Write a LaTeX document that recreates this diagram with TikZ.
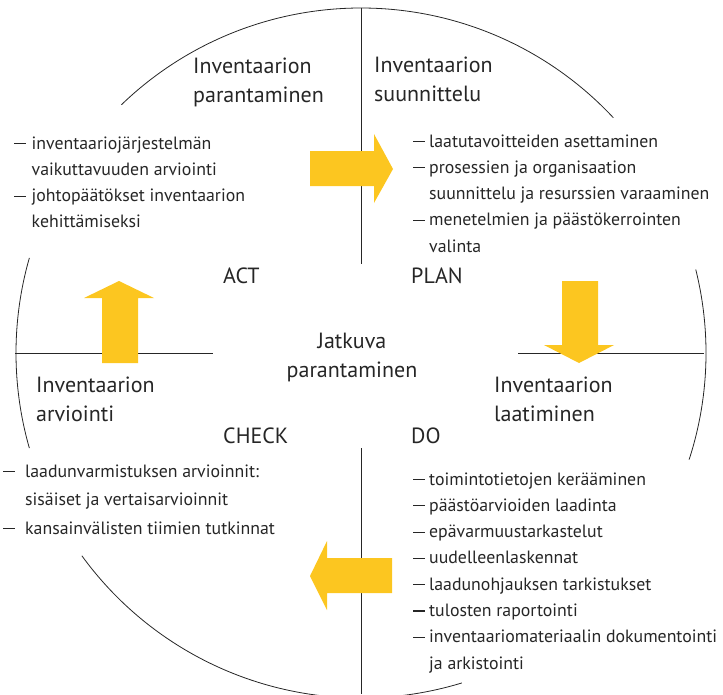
\documentclass[tikz,border=0pt]{standalone}
\usepackage{fontspec}
\setmainfont{PT Sans}
\usetikzlibrary{calc}
\definecolor{keltainen}{RGB}{252,198,32}
\definecolor{teksti}{RGB}{38,38,38}
\newcommand\viiva{\rule[5pt]{11.5pt}{1.1pt}}

\begin{document}
\begin{tikzpicture}[x=1pt,y=-1pt,
  otsikko/.style={anchor=base west,inner sep=0pt,text=teksti,font=\fontsize{22}{29.5}\selectfont},
  lista/.style={anchor=base west,inner sep=0pt,text=teksti,font=\fontsize{17.8}{26.3}\selectfont},
  nuoli/.style={fill=keltainen,draw=none},
  ympyra/.style={line width=0.8pt,draw=black!85}]
 \useasboundingbox (0,0) rectangle (723,694);
 \coordinate (O) at (361,353);

 % Circle pieces
 \draw[ympyra] (O) ++(-90:345) arc[start angle=-90,end angle=-134,radius=345];
 \draw[ympyra] (O) ++(-43:345) arc[start angle=-43,end angle=-90,radius=345];
 \draw[ympyra] (O) ++(-164:345) arc[start angle=-164,end angle=-196,radius=345];
 \draw[ympyra] (O) ++(18:345) arc[start angle=18,end angle=-14,radius=345];
 \draw[ympyra] (O) ++(144:345) arc[start angle=144,end angle=96,radius=345];
 \draw[ympyra] (O) ++(84:345) arc[start angle=84,end angle=73,radius=345];

 % Axes
 \draw[ympyra] (361,8) -- (361,264);
 \draw[ympyra] (361,448) -- (361,694);
 \draw[ympyra] (15,353) -- (213,353);
 \draw[ympyra] (518,353) -- (704,353);

 % Arrows
 \fill[nuoli] (310,151) -- (374,151) -- (374,134) -- (393,169) -- (374,203) -- (374,186) -- (310,186) -- cycle;
 \fill[nuoli] (562,281) -- (598,281) -- (598,345) -- (614,345) -- (579,363) -- (544,345) -- (562,345) -- cycle;
 \fill[nuoli] (392,558) -- (327,558) -- (327,541) -- (310,576) -- (327,610) -- (327,593) -- (392,593) -- cycle;
 \fill[nuoli] (102,363) -- (102,298) -- (84,298) -- (119,281) -- (154,298) -- (138,298) -- (138,363) -- cycle;

 % Phase titles
 \node[otsikko] (parannus) at (193,73) {\begin{tabular}[t]{@{}l@{}}Inventaarion\\parantaminen\end{tabular}};
 \node[otsikko] (suunnittelu) at (374,72) {\begin{tabular}[t]{@{}l@{}}Inventaarion\\suunnittelu\end{tabular}};
 \node[otsikko] (arviointi) at (36,392) {\begin{tabular}[t]{@{}l@{}}Inventaarion\\arviointi\end{tabular}};
 \node[otsikko] (laatiminen) at (494,392) {\begin{tabular}[t]{@{}l@{}}Inventaarion\\laatiminen\end{tabular}};
 \node[otsikko,anchor=base] (jatkuva) at (352,348) {\begin{tabular}[t]{@{}c@{}}Jatkuva\\parantaminen\end{tabular}};

 \node[otsikko] (act) at (223,283) {ACT};
 \node[otsikko] (plan) at (411,283) {PLAN};
 \node[otsikko] (check) at (223,443) {CHECK};
 \node[otsikko] (do) at (411,443) {DO};

 % Lists
 \node[lista] (actlista) at (14,149) {\begin{tabular}[t]{@{}p{17.5pt}@{}l@{}}
  \viiva & inventaariojärjestelmän\\
         & vaikuttavuuden arviointi\\
  \viiva & johtopäätökset inventaarion\\
         & kehittämiseksi\end{tabular}};
 \node[lista] (planlista) at (413,147) {\begin{tabular}[t]{@{}p{16pt}@{}l@{}}
  \viiva & laatutavoitteiden asettaminen\\
  \viiva & prosessien ja organisaation\\
         & suunnittelu ja resurssien varaaminen\\
  \viiva & menetelmien ja päästökerrointen\\
         & valinta\end{tabular}};
 \node[lista] (dolista) at (413,485) {\begin{tabular}[t]{@{}p{16pt}@{}l@{}}
  \viiva & toimintotietojen kerääminen\\
  \viiva & päästöarvioiden laadinta\\
  \viiva & epävarmuustarkastelut\\
  \viiva & uudelleenlaskennat\\
  \viiva & laadunohjauksen tarkistukset\\
  \viiva & tulosten raportointi\\
  \viiva & inventaariomateriaalin dokumentointi\\
         & ja arkistointi\end{tabular}};
 \node[lista,font=\fontsize{17.8}{28.5}\selectfont] (checklista) at (3,477) {\begin{tabular}[t]{@{}p{22pt}@{}l@{}}
  \viiva & laadunvarmistuksen arvioinnit:\\
         & sisäiset ja vertaisarvioinnit\\
  \viiva & kansainvälisten tiimien tutkinnat\end{tabular}};
\end{tikzpicture}
\end{document}
